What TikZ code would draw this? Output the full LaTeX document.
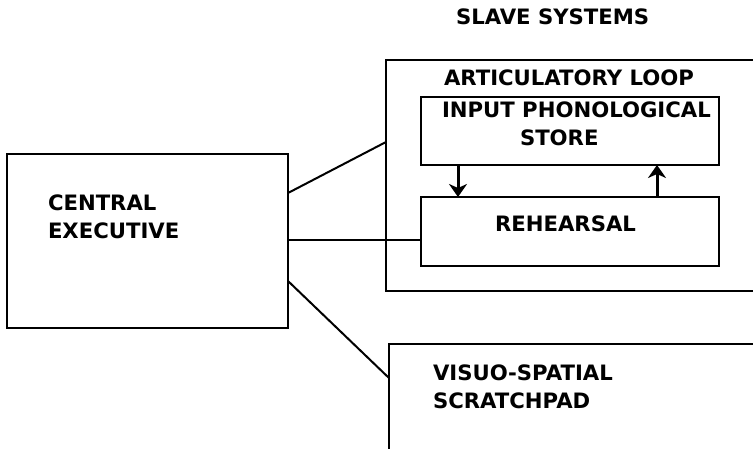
\documentclass[tikz,border=0pt]{standalone}
\usepackage{fontspec}
\setmainfont{DejaVu Sans}
\usetikzlibrary{arrows.meta}
\tikzset{
  box/.style={draw, line width=2pt, inner sep=0pt, outer sep=0pt},
  lbl/.style={anchor=base west, inner sep=0pt, outer sep=0pt, font=\bfseries\fontsize{21.2}{24}\selectfont},
  link/.style={line width=2pt},
  flow/.style={line width=3pt, -{Stealth[length=13pt,width=18pt,inset=4pt]}}
}
\begin{document}
\begin{tikzpicture}[x=1pt,y=-1pt]
\useasboundingbox (0,0) rectangle (753,448);
\clip (0,0) rectangle (753,448);
\fill[white] (0,0) rectangle (753,448);
% boxes
\node[box, minimum width=281pt, minimum height=174pt] (ce) at (147.5,241) {};
\node[box, minimum width=389pt, minimum height=231pt] (loop) at (580.5,175.5) {};
\node[box, minimum width=298pt, minimum height=68pt] (ips) at (570,131) {};
\node[box, minimum width=298pt, minimum height=69pt] (reh) at (570,231.5) {};
\node[box, minimum width=391pt, minimum height=136pt] (vs) at (584.5,412) {};
% labels
\node[lbl] (tslave) at (456,24) {SLAVE SYSTEMS};
\node[lbl] (tart) at (444,85) {ARTICULATORY LOOP};
\node[lbl] (tinp) at (442,117) {INPUT PHONOLOGICAL};
\node[lbl] (tsto) at (520,145) {STORE};
\node[lbl] (treh) at (495,231) {REHEARSAL};
\node[lbl] (tcen) at (48,210) {CENTRAL};
\node[lbl] (texe) at (48,238) {EXECUTIVE};
\node[lbl] (tvis) at (433,380) {VISUO-SPATIAL};
\node[lbl] (tscr) at (433,408) {SCRATCHPAD};
% connector end points
\coordinate (ce1) at (ce.east |- 0,193);
\coordinate (lp1) at (loop.west |- 0,142);
\coordinate (ce2) at (ce.east |- 0,240);
\coordinate (rh1) at (reh.west |- 0,240);
\coordinate (ce3) at (ce.east |- 0,281);
\coordinate (vs1) at (vs.west |- 0,378);
\coordinate (ipsd) at (ips.south -| 458,0);
\coordinate (rehd) at (reh.north -| 458,0);
\coordinate (ipsu) at (ips.south -| 657,0);
\coordinate (rehu) at (reh.north -| 657,0);
% connectors
\draw[link] (ce1) -- (lp1);
\draw[link] (ce2) -- (rh1);
\draw[link] (ce3) -- (vs1);
\draw[flow] (ipsd) -- (rehd);
\draw[flow] (rehu) -- (ipsu);
\end{tikzpicture}
\end{document}
